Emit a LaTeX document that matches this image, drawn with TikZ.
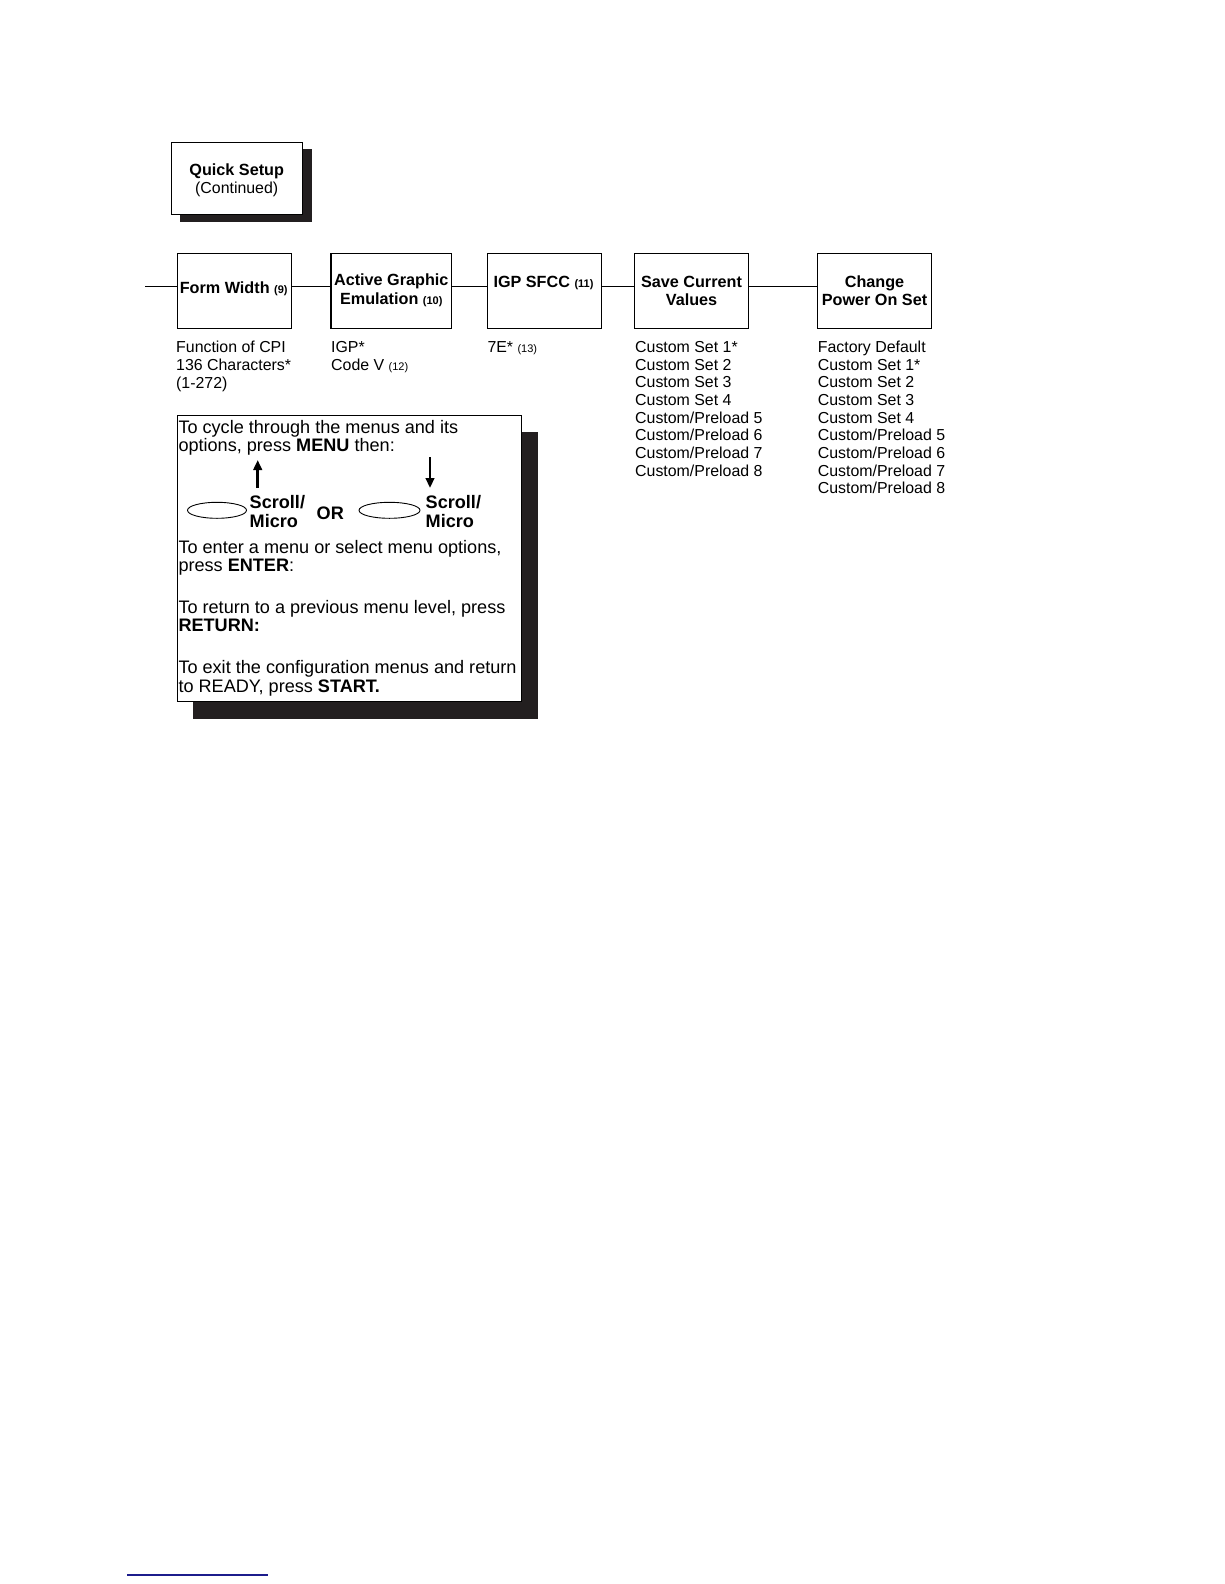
\documentclass[tikz,border=0pt]{standalone}
\usepackage{fontspec}
\setmainfont{Liberation Sans}
\usetikzlibrary{shapes.geometric,arrows.meta,backgrounds}
\definecolor{shadowcol}{RGB}{35,31,32}
\definecolor{linkblue}{RGB}{28,28,140}
\newcommand\myboxfnt{\fontsize{16.2}{18.5}\selectfont\bfseries}
\newcommand\mynumfnt{\fontsize{11}{12}\selectfont}
\newcommand\myoptfnt{\fontsize{15.9}{17.8}\selectfont}
\newcommand\myinfnt{\fontsize{18.1}{20}\selectfont}
\begin{document}
\begin{tikzpicture}[x=1pt,y=-1pt,
  box/.style={draw, line width=1.1pt, fill=white, inner sep=0pt},
  tx/.style={inner sep=0pt, anchor=base, font=\myboxfnt},
  opt/.style={inner sep=0pt, anchor=base west, font=\myoptfnt},
  itx/.style={inner sep=0pt, anchor=base west, font=\myinfnt},
  conn/.style={draw, line width=1pt},
  arr/.style={draw, line width=2.8pt, -{Triangle[width=8.5pt,length=10pt]}},
  ell/.style={draw, ellipse, line width=0.9pt, inner sep=0pt}]
\useasboundingbox (0,0) rectangle (1224,1584);

% Quick Setup header
\node[box, minimum width=131pt, minimum height=71.7pt] (qs) at (237.2,178.2) {};
\begin{pgfonlayer}{background}
\fill[shadowcol] ([shift={(9,7.3)}]qs.north west) rectangle ([shift={(9,7.3)}]qs.south east);
\end{pgfonlayer}
\node[tx] (qst1) at (236.7,175.6) {Quick Setup};
\node[tx, font=\myoptfnt] (qst2) at (236.7,193.6) {(Continued)};

% Menu boxes
\node[box, minimum width=114.4pt, minimum height=75pt] (fw) at (234.5,290.8) {};
\node[box, minimum width=120.7pt, minimum height=75pt] (ag) at (391.3,290.8) {};
\node[box, minimum width=114.4pt, minimum height=75pt] (sf) at (544.5,290.8) {};
\node[box, minimum width=114pt, minimum height=75pt] (sc) at (691.3,290.8) {};
\node[box, minimum width=114.4pt, minimum height=75pt] (cp) at (874.5,290.8) {};

\node[tx] (fwt) at (233.7,293.6) {Form Width {\mynumfnt\bfseries(9)}};
\node[tx] (agt1) at (391.3,285.6) {Active Graphic};
\node[tx] (agt2) at (391.3,304.6) {Emulation {\mynumfnt\bfseries(10)}};
\node[tx] (sft) at (543.5,287.3) {IGP SFCC {\mynumfnt\bfseries(11)}};
\node[tx] (sct1) at (691.5,287.3) {Save Current};
\node[tx] (sct2) at (691.5,305) {Values};
\node[tx] (cpt1) at (874.5,287.3) {Change};
\node[tx] (cpt2) at (874.5,305) {Power On Set};

% Connectors
\coordinate (start) at (145,286.7);
\draw[conn] (start) -- ([yshift=4.1pt]fw.west);
\draw[conn] ([yshift=4.1pt]fw.east) -- ([yshift=4.1pt]ag.west);
\draw[conn] ([yshift=4.1pt]ag.east) -- ([yshift=4.1pt]sf.west);
\draw[conn] ([yshift=4.1pt]sf.east) -- ([yshift=4.1pt]sc.west);
\draw[conn] ([yshift=4.1pt]sc.east) -- ([yshift=4.1pt]cp.west);

% Options
\foreach \t [count=\i] in {Function of CPI, 136 Characters*, (1-272)}
  {\node[opt] (fwo\i) at (176,{352.4+17.8*(\i-1)}) {\t};}
\foreach \t [count=\i] in {IGP*, Code V {\mynumfnt(12)}}
  {\node[opt] (ago\i) at (331,{352.4+17.8*(\i-1)}) {\t};}
\node[opt] (sfo1) at (487.3,352.4) {7E* {\mynumfnt(13)}};
\foreach \t [count=\i] in {Custom Set 1*, Custom Set 2, Custom Set 3, Custom Set 4, Custom/Preload 5, Custom/Preload 6, Custom/Preload 7, Custom/Preload 8}
  {\node[opt] (sco\i) at (635,{352.4+17.66*(\i-1)}) {\t};}
\foreach \t [count=\i] in {Factory Default, Custom Set 1*, Custom Set 2, Custom Set 3, Custom Set 4, Custom/Preload 5, Custom/Preload 6, Custom/Preload 7, Custom/Preload 8}
  {\node[opt] (cpo\i) at (817.7,{352.4+17.66*(\i-1)}) {\t};}

% Instruction box
\node[box, minimum width=343.7pt, minimum height=286.7pt] (ib) at (349.2,558.4) {};
\begin{pgfonlayer}{background}
\fill[shadowcol] ([shift={(16,17)}]ib.north west) rectangle ([shift={(16,17)}]ib.south east);
\end{pgfonlayer}
\node[itx] (il1) at (178.3,433.3) {To cycle through the menus and its};
\node[itx] (il2) at (178.3,451.7) {options, press \textbf{MENU} then:};
\coordinate (ua1) at (257.7,488);
\coordinate (ua2) at (257.7,460);
\draw[arr] (ua1) -- (ua2);
\coordinate (da1) at (430,457);
\coordinate (da2) at (430,488);
\draw[arr] (da1) -- (da2);
\node[ell, minimum width=59pt, minimum height=16pt] (e1) at (217,510.3) {};
\node[ell, minimum width=61pt, minimum height=16pt] (e2) at (389.5,510.3) {};
\node[itx, font=\myinfnt\bfseries] (s1a) at (249.5,508) {Scroll/};
\node[itx, font=\myinfnt\bfseries] (s1b) at (249.5,527.3) {Micro};
\node[itx, font=\myinfnt\bfseries] (or) at (316.5,519.6) {OR};
\node[itx, font=\myinfnt\bfseries] (s2a) at (425.5,508) {Scroll/};
\node[itx, font=\myinfnt\bfseries] (s2b) at (425.5,527.3) {Micro};
\node[itx] (il3) at (178.3,553.3) {To enter a menu or select menu options,};
\node[itx] (il4) at (178.3,571.7) {press \textbf{ENTER}:};
\node[itx] (il5) at (178.3,613.3) {To return to a previous menu level, press};
\node[itx] (il6) at (178.3,631.7) {\textbf{RETURN:}};
\node[itx] (il7) at (178.3,673.3) {To exit the configuration menus and return};
\node[itx] (il8) at (178.3,692.7) {to READY, press \textbf{START.}};

% stray link underline
\coordinate (bl1) at (127,1575);
\coordinate (bl2) at (268,1575);
\draw[linkblue, line width=1.3pt] (bl1) -- (bl2);
\end{tikzpicture}
\end{document}
